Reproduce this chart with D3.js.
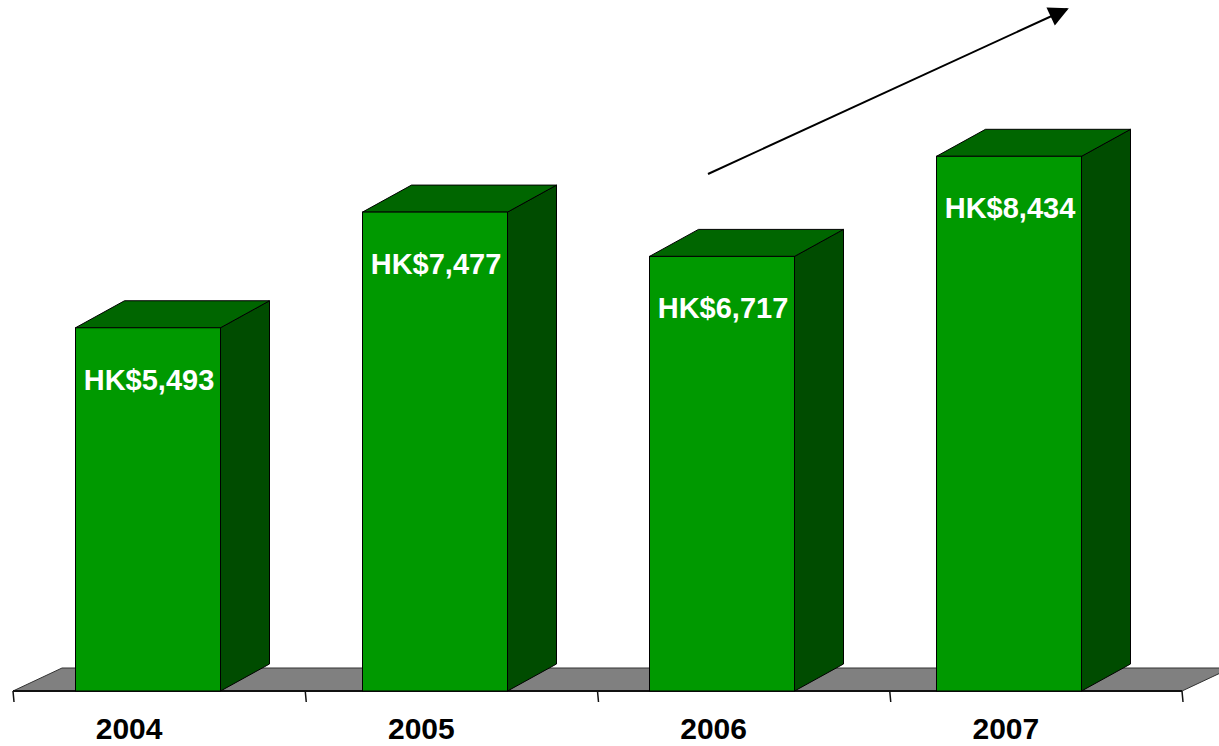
<!DOCTYPE html>
<html>
<head>
<meta charset="utf-8">
<script src="https://cdn.jsdelivr.net/npm/d3@7"></script>
<style>
  html, body { margin: 0; padding: 0; background: #ffffff; }
  svg { display: block; }
</style>
</head>
<body>
<svg id="chart" width="1219" height="746"></svg>
<script>
// ---- data ----
const years = ["2004", "2005", "2006", "2007"];
const values = [5493, 7477, 6717, 8434];
const valueLabels = ["HK$5,493", "HK$7,477", "HK$6,717", "HK$8,434"];

// ---- layout ----
const W = 1219, H = 746;
const floorY = 691;
const floorLeft = 13, floorRight = 1182;
const depthX = 49, barDepthY = 27, floorDepthY = 23;
const barW = 145;

const svg = d3.select("#chart");

// axis (ticks / category labels)
const x = d3.scaleBand().domain(years).range([floorLeft, floorRight]);
// bar placement
const xBar = d3.scaleBand().domain(years).range([4.5, 1152.5]);
const y = d3.scaleLinear().domain([0, 10000]).range([648, 65]);

const colFront = "#009900", colTop = "#006600", colSide = "#004c00";

// floor
svg.append("path")
  .attr("d", `M${floorLeft},${floorY} L${floorRight},${floorY} L${floorRight + depthX},${floorY - floorDepthY} L${floorLeft + depthX},${floorY - floorDepthY} Z`)
  .attr("fill", "#808080")
  .attr("stroke", "#333")
  .attr("stroke-width", 1);
svg.append("line")
  .attr("x1", floorLeft).attr("x2", floorRight)
  .attr("y1", floorY).attr("y2", floorY)
  .attr("stroke", "#111").attr("stroke-width", 2);

// ticks
const tickPos = years.map(d => x(d)).concat([floorRight]);
svg.selectAll("line.tick").data(tickPos).join("line")
  .attr("class", "tick")
  .attr("x1", d => d).attr("x2", d => d + 1)
  .attr("y1", floorY).attr("y2", floorY + 11)
  .attr("stroke", "#111").attr("stroke-width", 1.5);

// bars
const barX = d => xBar(d) + xBar.bandwidth() / 2 - barW / 2;
const g = svg.selectAll("g.bar").data(years.map((d, i) => ({ year: d, value: values[i], label: valueLabels[i] })))
  .join("g").attr("class", "bar");

g.append("path") // side
  .attr("d", d => {
    const x0 = barX(d.year) + barW, yt = y(d.value);
    return `M${x0},${yt} L${x0 + depthX},${yt - barDepthY} L${x0 + depthX},${floorY - barDepthY} L${x0},${floorY} Z`;
  })
  .attr("fill", colSide).attr("stroke", "#000").attr("stroke-width", 1);

g.append("path") // top
  .attr("d", d => {
    const x0 = barX(d.year), yt = y(d.value);
    return `M${x0},${yt} L${x0 + depthX},${yt - barDepthY} L${x0 + barW + depthX},${yt - barDepthY} L${x0 + barW},${yt} Z`;
  })
  .attr("fill", colTop).attr("stroke", "#000").attr("stroke-width", 1);

g.append("rect") // front
  .attr("x", d => barX(d.year))
  .attr("y", d => y(d.value))
  .attr("width", barW)
  .attr("height", d => floorY - y(d.value))
  .attr("fill", colFront).attr("stroke", "#000").attr("stroke-width", 1);

g.append("text")
  .attr("x", d => barX(d.year) + barW / 2 + 1)
  .attr("y", d => y(d.value) + 62)
  .attr("text-anchor", "middle")
  .attr("font-family", "'Liberation Sans', Arial, sans-serif")
  .attr("font-weight", "bold")
  .attr("font-size", 29)
  .attr("fill", "#ffffff")
  .text(d => d.label);

// category labels
svg.selectAll("text.year").data(years).join("text")
  .attr("class", "year")
  .attr("x", d => x(d) + x.bandwidth() / 2 - 30)
  .attr("y", 739)
  .attr("text-anchor", "middle")
  .attr("font-family", "'Liberation Sans', Arial, sans-serif")
  .attr("font-weight", "bold")
  .attr("font-size", 30)
  .attr("fill", "#000")
  .text(d => d);

// trend arrow
svg.append("defs").append("marker")
  .attr("id", "arrowhead")
  .attr("viewBox", "0 0 10 10")
  .attr("refX", 9).attr("refY", 5)
  .attr("markerWidth", 11).attr("markerHeight", 10)
  .attr("markerUnits", "strokeWidth")
  .attr("orient", "auto")
  .append("path").attr("d", "M0,0 L10,5 L0,10 Z").attr("fill", "#000");

svg.append("line")
  .attr("x1", 708).attr("y1", 174)
  .attr("x2", 1067).attr("y2", 9)
  .attr("stroke", "#000").attr("stroke-width", 2)
  .attr("marker-end", "url(#arrowhead)");
</script>
</body>
</html>
